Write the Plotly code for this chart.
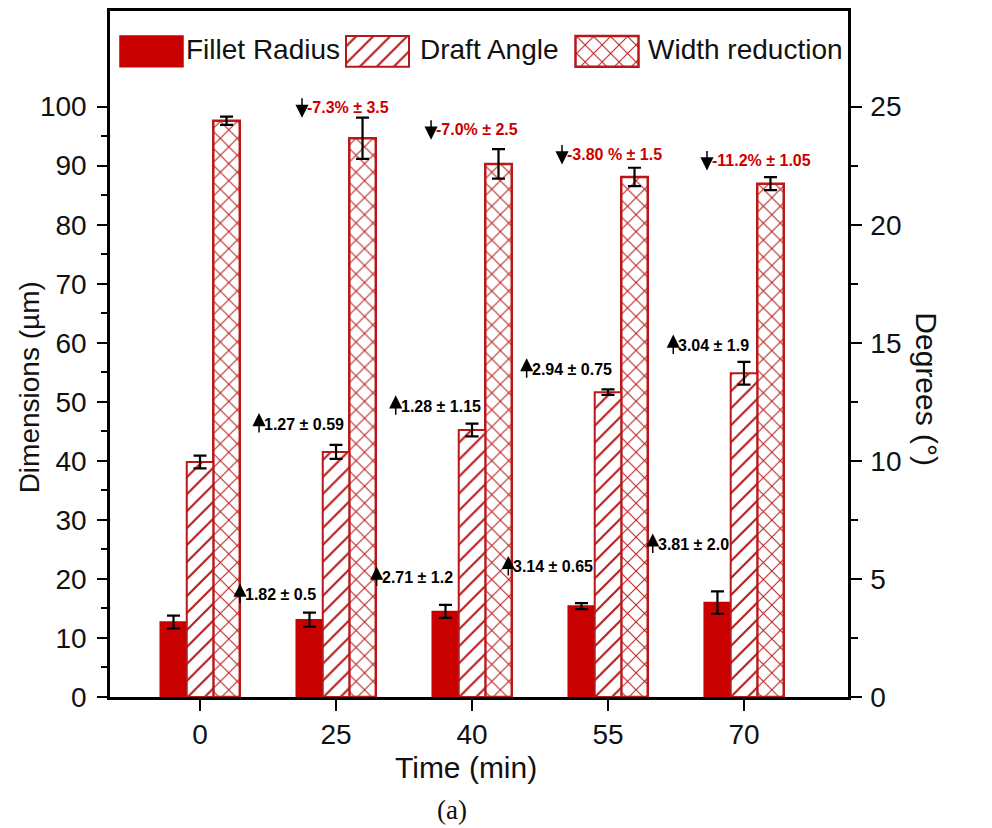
import plotly.graph_objects as go

# ---- data -------------------------------------------------------------
times = ["0", "25", "40", "55", "70"]

fillet_radius = [12.7, 13.1, 14.5, 15.4, 16.0]       # µm (left axis)
fillet_err = [1.1, 1.2, 1.1, 0.5, 1.9]

draft_angle = [9.95, 10.38, 11.31, 12.91, 13.71]     # degrees (right axis)
draft_err = [0.27, 0.30, 0.27, 0.12, 0.48]

width_reduction = [97.6, 94.65, 90.3, 88.1, 86.95]   # µm (left axis)
width_err = [0.7, 3.5, 2.5, 1.55, 1.1]

series_names = ["Fillet Radius", "Draft Angle", "Width reduction"]

width_change_labels = ["-7.3% ± 3.5", "-7.0% ± 2.5", "-3.80 % ± 1.5", "-11.2% ± 1.05"]
fillet_change_labels = ["1.82 ± 0.5", "2.71 ± 1.2", "3.14 ± 0.65", "3.81 ± 2.0"]
draft_change_labels = ["1.27 ± 0.59", "1.28 ± 1.15", "2.94 ± 0.75", "3.04 ± 1.9"]

# ---- styling ----------------------------------------------------------
RED = "#C80000"
EDGE = "#B81818"
FONT = "Liberation Sans, Arial, sans-serif"
W, H = 992, 828
L, R, T, B = 110, 144, 8, 131          # plot-area margins (px)
PW, PH = W - L - R, H - T - B

bar_w = 0.195
offsets = [-1.5 * bar_w, -0.5 * bar_w, 0.5 * bar_w]

hatch = dict(shape="/", fgcolor=EDGE, bgcolor="white", size=12, solidity=0.17,
             fgopacity=1)
cross = dict(shape="x", fgcolor=EDGE, bgcolor="white", size=12, solidity=0.16,
             fgopacity=1)
err_style = dict(type="data", color="black", thickness=2.2, width=6.5)

fig = go.Figure()

fig.add_trace(go.Bar(
    x=times, y=fillet_radius, name=series_names[0], width=bar_w, offset=offsets[0],
    marker=dict(color=RED, line=dict(color=RED, width=1.5)),
    error_y=dict(array=fillet_err, **err_style), yaxis="y", showlegend=False))

fig.add_trace(go.Bar(
    x=times, y=draft_angle, name=series_names[1], width=bar_w, offset=offsets[1],
    marker=dict(color="white", line=dict(color=EDGE, width=2), pattern=hatch),
    error_y=dict(array=draft_err, **err_style), yaxis="y2", showlegend=False))

fig.add_trace(go.Bar(
    x=times, y=width_reduction, name=series_names[2], width=bar_w, offset=offsets[2],
    marker=dict(color="white", line=dict(color=EDGE, width=2.5), pattern=cross),
    error_y=dict(array=width_err, **err_style), yaxis="y", showlegend=False))

# ---- legend drawn as swatches on an overlay axis (pixel units) ---------
legend_swatch_x = [41.5, 267.5, 497]     # swatch centres, px from plot left
legend_text_x = [74, 308, 536]
swatch_w, swatch_base, swatch_h = 63, 633, 31
legend_markers = [
    dict(color=RED, line=dict(color=RED, width=1.5)),
    dict(color="white", line=dict(color=EDGE, width=2), pattern=hatch),
    dict(color="white", line=dict(color=EDGE, width=2.5), pattern=cross),
]
for i, name in enumerate(series_names):
    fig.add_trace(go.Bar(
        x=[legend_swatch_x[i]], y=[swatch_h], base=[swatch_base], width=swatch_w,
        marker=legend_markers[i], xaxis="x3", yaxis="y3", showlegend=False,
        hoverinfo="skip"))

annotations = []
for i, name in enumerate(series_names):
    annotations.append(dict(
        x=legend_text_x[i], y=swatch_base + swatch_h / 2 + 2, xref="x3", yref="y3",
        text=name, showarrow=False, xanchor="left", yanchor="middle",
        font=dict(family=FONT, size=28, color="#111")))

# ---- change labels with arrows ----------------------------------------
def change_label(x, y, text, color, up):
    # arrow from tail to tip at (x, y), text to the right of the arrow
    annotations.append(dict(
        x=x, y=y, xref="x", yref="y", text="", showarrow=True,
        ax=0, ay=21 if up else -21, arrowhead=2, arrowsize=1.75, arrowwidth=1.5,
        arrowcolor="black"))
    annotations.append(dict(
        x=x, y=y, xref="x", yref="y", text=text, showarrow=False,
        xanchor="left", yanchor="middle", xshift=3, yshift=-11 if up else 10,
        font=dict(family=FONT, size=16, color=color, weight="bold")))

width_label_pos = [(0.75, 98.1), (1.699, 94.4), (2.662, 90.2), (3.728, 89.2)]
fillet_label_pos = [(0.294, 19.2), (1.299, 22.1), (2.267, 23.9), (3.329, 27.7)]
draft_label_pos = [(0.434, 48.1), (1.439, 51.1), (2.402, 57.4), (3.48, 61.4)]

for (x, y), t in zip(width_label_pos, width_change_labels):
    change_label(x, y, t, "#CC0000", up=False)
for (x, y), t in zip(fillet_label_pos, fillet_change_labels):
    change_label(x, y, t, "black", up=True)
for (x, y), t in zip(draft_label_pos, draft_change_labels):
    change_label(x, y, t, "black", up=True)

# ---- axis titles and caption ------------------------------------------
def px(xp):
    return (xp - L) / PW

def py(yp):
    return (H - B - yp) / PH

def title(xp, yp, text, size, angle=0, family=FONT):
    return dict(x=px(xp), y=py(yp), xref="paper", yref="paper", text=text,
                textangle=angle, showarrow=False, xanchor="center", yanchor="middle",
                font=dict(family=family, size=size, color="#111"))

annotations += [
    title(29, 386, "Dimensions (µm)", 28, -90),
    title(927, 388, "Degrees (°)", 30, 90),
    title(466, 768, "Time (min)", 30),
    title(452, 810, "(a)", 27, 0, "Liberation Serif, Times New Roman, serif"),
]

axis_common = dict(showline=True, linecolor="black", linewidth=2.5, showgrid=False,
                   zeroline=False, ticks="outside", tickcolor="black", tickwidth=2,
                   tickfont=dict(family=FONT, size=28, color="#111"))

fig.update_layout(
    width=W, height=H,
    margin=dict(l=L, r=R, t=T, b=B, pad=0),
    paper_bgcolor="white", plot_bgcolor="white",
    barmode="overlay",
    annotations=annotations,
    xaxis=dict(type="category", range=[-0.662, 4.765], mirror=True, ticklen=11,
               ticklabelstandoff=0, **axis_common),
    yaxis=dict(range=[0, 116.2], tickvals=list(range(0, 101, 10)), ticklen=10,
               ticklabelstandoff=5,
               minor=dict(tickvals=list(range(5, 100, 10)), ticks="outside",
                          ticklen=6, tickwidth=2, tickcolor="black"),
               **axis_common),
    yaxis2=dict(range=[0, 29.05], overlaying="y", side="right",
                tickvals=[0, 5, 10, 15, 20, 25], ticklen=11, ticklabelstandoff=3,
                minor=dict(tickvals=[2.5, 7.5, 12.5, 17.5, 22.5], ticks="outside",
                           ticklen=7, tickwidth=2, tickcolor="black"),
                **axis_common),
    xaxis3=dict(overlaying="x", range=[0, PW], visible=False),
    yaxis3=dict(overlaying="y", range=[0, PH], visible=False),
)

fig.write_html("out.html")
